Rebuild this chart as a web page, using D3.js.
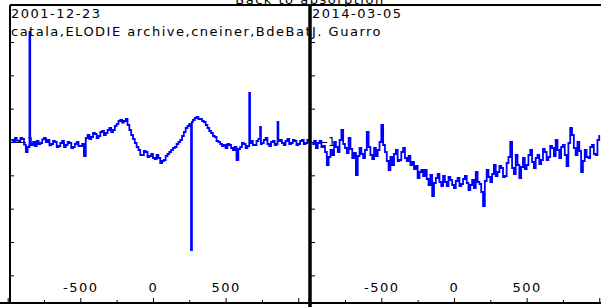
<!DOCTYPE html>
<html>
<head>
<meta charset="utf-8">
<script src="https://cdn.jsdelivr.net/npm/d3@7"></script>
<style>
  body { margin: 0; background: #fff; }
  svg { display: block; font-family: "DejaVu Sans", Verdana, sans-serif; }
  text { letter-spacing: 1.5px; }
</style>
</head>
<body>
<div id="chart"></div>
<script>
// Spectra, velocity (km/s) vs relative flux
const title = "Back to absorption";
const dates = ["2001-12-23", "2014-03-05"];
const observers = ["catala,ELODIE archive,cneiner,BdeBat", "J. Guarro"];

const velA = [-975, -962.5, -950, -937.5, -925, -912.5, -900, -887.5, -875, -862.5, -850, -845,
  -837.5, -825, -812.5, -800, -787.5, -775, -762.5, -750, -737.5, -725, -712.5, -700, -687.5, -675,
  -662.5, -650, -637.5, -625, -612.5, -600, -587.5, -575, -562.5, -550, -537.5, -525, -512.5, -500,
  -487.5, -475, -462.5, -450, -437.5, -425, -412.5, -400, -387.5, -375, -362.5, -350, -337.5, -325,
  -312.5, -300, -287.5, -275, -262.5, -250, -237.5, -225, -212.5, -200, -187.5, -175, -162.5, -150,
  -137.5, -125, -112.5, -100, -87.5, -75, -62.5, -50, -37.5, -25, -12.5, 0, 12.5, 25, 37.5, 50,
  62.5, 75, 87.5, 100, 112.5, 125, 137.5, 150, 162.5, 175, 187.5, 200, 212.5, 225, 237.5, 250,
  262, 268, 275, 287.5, 300, 312.5, 325, 337.5, 350, 362.5, 375, 387.5, 400, 412.5, 425, 437.5,
  450, 462.5, 475, 487.5, 500, 512.5, 525, 537.5, 550, 562.5, 575, 587.5, 600, 612.5, 625, 637.5,
  650, 662.5, 668, 675, 687.5, 700, 712.5, 725, 737.5, 743, 750, 762.5, 775, 787.5, 800, 812.5,
  825, 837.5, 850, 857.5, 863, 875, 887.5, 900, 912.5, 925, 937.5, 950, 962.5, 975, 987.5, 1000,
  1012.5, 1025, 1037.5, 1050, 1062.5, 1075];
const fluxA = [1.006, 1.000, 1.012, 1.004, 1.003, 1.012, 1.009, 0.992, 0.970, 0.985, 1.330, 0.995,
  0.991, 1.000, 0.988, 1.003, 0.994, 0.997, 1.008, 1.012, 1.000, 1.006, 0.990, 0.994, 1.003, 1.000,
  0.985, 0.988, 0.997, 1.003, 0.985, 0.991, 1.000, 0.997, 0.982, 0.985, 0.994, 1.000, 0.988, 0.988,
  0.994, 0.958, 1.012, 1.021, 1.009, 1.015, 1.027, 1.024, 1.012, 1.018, 1.030, 1.033, 1.021, 1.027,
  1.036, 1.042, 1.030, 1.036, 1.048, 1.054, 1.063, 1.066, 1.058, 1.063, 1.069, 1.051, 1.036, 1.021,
  1.009, 0.997, 0.985, 0.976, 0.961, 0.961, 0.973, 0.970, 0.955, 0.958, 0.964, 0.952, 0.949, 0.961, 0.952, 0.937,
  0.943, 0.946, 0.958, 0.964, 0.970, 0.976, 0.982, 0.985, 0.994, 1.000, 1.006, 1.018, 1.030, 1.042, 1.048, 1.054,
  0.676, 1.060, 1.066, 1.072, 1.075, 1.069, 1.069, 1.063, 1.060, 1.051, 1.042, 1.033, 1.027, 1.018, 1.015, 1.003,
  1.000, 0.994, 0.988, 0.991, 0.982, 0.994, 0.991, 0.982, 0.976, 0.985, 0.946, 0.979, 0.985, 0.997, 0.994, 0.982,
  0.988, 1.147, 0.997, 1.003, 0.991, 0.991, 1.003, 1.009, 1.045, 0.994, 0.997, 1.006, 1.012, 0.994, 0.988, 1.000,
  1.003, 0.991, 0.994, 1.060, 1.003, 1.006, 0.997, 0.991, 1.003, 1.009, 0.994, 0.997, 1.006, 1.003, 0.991, 0.994,
  1.003, 1.006, 0.994, 0.997, 1.006, 1.003];

const velB = [-975, -962.5, -950, -937.5, -925, -912.5, -900, -887.5, -875, -862.5, -850, -837.5,
  -825, -812.5, -800, -787.5, -775, -762.5, -750, -737.5, -725, -712.5, -700, -687.5, -675, -662.5,
  -650, -637.5, -625, -612.5, -600, -587.5, -575, -562.5, -550, -537.5, -525, -512.5, -500, -487.5,
  -475, -462.5, -450, -437.5, -425, -412.5, -400, -387.5, -375, -362.5, -350, -337.5, -325, -312.5,
  -300, -287.5, -275, -262.5, -250, -237.5, -225, -212.5, -200, -187.5, -175, -162.5, -150, -137.5,
  -125, -112.5, -100, -87.5, -75, -62.5, -50, -37.5, -25, -12.5, 0, 12.5, 25, 37.5, 50, 62.5, 75,
  87.5, 100, 112.5, 125, 137.5, 150, 162.5, 175, 187.5, 200, 212.5, 225, 237.5, 250, 262.5, 275,
  287.5, 300, 312.5, 325, 337.5, 350, 362.5, 375, 387.5, 400, 412.5, 425, 437.5, 450, 462.5, 475,
  487.5, 500, 512.5, 525, 537.5, 550, 562.5, 575, 587.5, 600, 612.5, 625, 637.5, 650, 662.5, 675,
  687.5, 700, 712.5, 725, 737.5, 750, 762.5, 775, 787.5, 800, 812.5, 825, 837.5, 850, 862.5, 875,
  887.5, 900, 912.5, 925, 937.5, 950, 962.5, 975, 987.5, 1000];
const fluxB = [0.994, 1.003, 0.982, 0.997, 1.003, 0.985, 0.988, 0.970, 0.931, 0.955, 0.976, 0.961,
  1.000, 0.985, 0.970, 1.006, 1.036, 0.994, 0.982, 0.967, 1.012, 0.979, 0.952, 0.967, 0.901, 0.958,
  0.982, 0.964, 0.952, 0.976, 1.030, 0.985, 0.961, 0.949, 0.982, 0.958, 0.976, 1.000, 1.051, 0.991,
  0.970, 0.943, 0.916, 0.955, 0.931, 0.964, 0.976, 0.943, 0.946, 0.970, 0.982, 0.952, 0.943, 0.958,
  0.931, 0.940, 0.919, 0.928, 0.892, 0.910, 0.916, 0.898, 0.916, 0.889, 0.871, 0.901, 0.838, 0.877,
  0.892, 0.904, 0.880, 0.868, 0.898, 0.880, 0.868, 0.895, 0.886, 0.871, 0.862, 0.883, 0.892, 0.868, 0.874, 0.889, 0.898,
  0.877, 0.856, 0.871, 0.886, 0.862, 0.910, 0.880, 0.874, 0.850, 0.808, 0.883, 0.916, 0.895, 0.880, 0.904, 0.931,
  0.898, 0.910, 0.928, 0.922, 0.895, 0.898, 0.937, 0.955, 1.000, 0.922, 0.904, 0.961, 0.931, 0.892, 0.925, 0.952,
  0.919, 0.931, 0.961, 0.976, 0.940, 0.922, 0.952, 0.961, 0.934, 0.946, 0.979, 0.970, 0.946, 0.955, 0.988, 0.982,
  0.958, 1.006, 0.976, 0.952, 0.985, 0.991, 0.961, 0.928, 0.997, 1.042, 1.021, 0.982, 0.961, 1.000, 0.973, 0.910,
  0.943, 0.976, 0.955, 0.952, 0.985, 0.991, 0.964, 0.961, 1.006, 1.021];

const majorTicks = [-1000, -500, 0, 500, 1000];
const minorTicks = [-750, -250, 250, 750];
const labelTicks = [-500, 0, 500];
const fluxTicks = [0.6, 0.7, 0.8, 0.9, 1.0, 1.1, 1.2, 1.3];

const width = 601, height = 307;
const frameTop = 5, frameBottom = 303;
const panels = [
  { left: 10, right: 310, vel: velA, flux: fluxA },
  { left: 311, right: 620, vel: velB, flux: fluxB }
];

const svg = d3.select("#chart").append("svg")
  .attr("width", width)
  .attr("height", height);

const y = d3.scaleLinear().domain([0.514, 1.411]).range([304, 5]);

svg.append("text")
  .attr("x", 310)
  .attr("y", 4)
  .attr("text-anchor", "middle")
  .attr("font-size", 13)
  .text(title);

panels.forEach((p, i) => {
  const x = d3.scaleLinear().domain([-984, 1067]).range([p.left, p.left + 298]);
  const g = svg.append("g");

  const clipId = "clip" + i;
  svg.append("clipPath").attr("id", clipId)
    .append("rect")
    .attr("x", p.left).attr("y", frameTop)
    .attr("width", p.right - p.left).attr("height", frameBottom - frameTop);

  // "1" label on the flux axis, sits under the spectrum
  g.append("g")
    .attr("transform", `translate(${p.left},0)`)
    .call(d3.axisRight(y).tickValues([1]).tickSize(16).tickPadding(1).tickFormat(() => "1"))
    .call(a => a.select(".domain").remove())
    .call(a => a.selectAll("text").attr("font-size", 12).attr("font-family", "DejaVu Sans").attr("fill", "#000"));

  g.append("g")
    .attr("transform", `translate(${p.left},0)`)
    .call(d3.axisRight(y).tickValues(fluxTicks).tickSize(4).tickFormat(""))
    .call(a => a.select(".domain").remove());

  // bottom axis, ticks pointing up
  g.append("g")
    .attr("transform", `translate(0,${frameBottom})`)
    .call(d3.axisTop(x).tickValues(minorTicks).tickSize(3).tickFormat(""))
    .call(a => a.select(".domain").remove());

  g.append("g")
    .attr("transform", `translate(0,${frameBottom})`)
    .call(d3.axisTop(x).tickValues(majorTicks).tickSize(5).tickPadding(6)
      .tickFormat(d => labelTicks.includes(d) ? String(d) : ""))
    .call(a => a.select(".domain").remove())
    .call(a => a.selectAll("text").attr("font-size", 13).attr("font-family", "DejaVu Sans").attr("fill", "#000"));

  const data = p.vel.map((v, k) => ({ v: v, f: p.flux[k] }));
  const line = d3.line()
    .x(d => x(d.v))
    .y(d => y(d.f))
    .curve(d3.curveStepAfter);

  g.append("path")
    .datum(data)
    .attr("clip-path", `url(#${clipId})`)
    .attr("fill", "none")
    .attr("stroke", "#0000ff")
    .attr("stroke-width", 1.8)
    .attr("d", line);

  const txt = g.append("g").attr("clip-path", `url(#${clipId})`);
  txt.append("text")
    .attr("x", p.left + 1).attr("y", 18)
    .attr("font-size", 13)
    .text(dates[i]);
  txt.append("text")
    .attr("x", p.left + 1).attr("y", 36)
    .attr("font-size", 13)
    .text(observers[i]);
});

// frames
svg.append("line").attr("x1", 10).attr("x2", width).attr("y1", frameTop).attr("y2", frameTop)
  .attr("stroke", "#000").attr("stroke-width", 2);
svg.append("line").attr("x1", 0).attr("x2", width).attr("y1", frameBottom).attr("y2", frameBottom)
  .attr("stroke", "#000").attr("stroke-width", 2);
svg.append("line").attr("x1", 10).attr("x2", 10).attr("y1", frameTop).attr("y2", frameBottom)
  .attr("stroke", "#000").attr("stroke-width", 2);
svg.append("line").attr("x1", 310).attr("x2", 310).attr("y1", frameTop).attr("y2", height)
  .attr("stroke", "#000").attr("stroke-width", 3.5);
</script>
</body>
</html>
